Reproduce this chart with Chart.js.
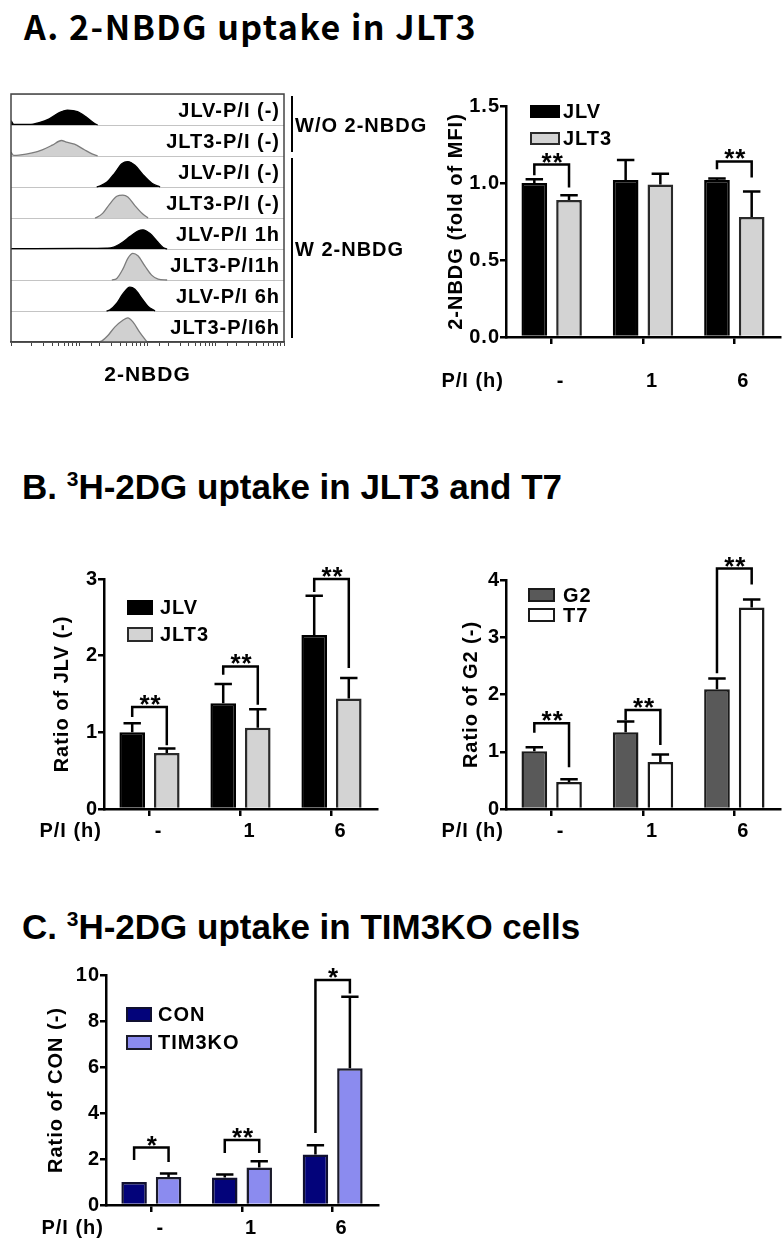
<!DOCTYPE html>
<html><head><meta charset="utf-8">
<script src="https://cdn.jsdelivr.net/npm/chart.js@4.4.0/dist/chart.umd.min.js"></script>
<style>
html,body{margin:0;padding:0;background:#fff;}
body{width:784px;height:1241px;position:relative;overflow:hidden;}
.t{position:absolute;white-space:nowrap;color:#000;line-height:1;}
.lt{font-family:'Liberation Sans',Arial,sans-serif;font-weight:700;font-size:35px;}
.lt span{font-size:21px;position:relative;top:-13px;}
canvas{position:absolute;display:block;}
</style></head><body>
<div class="t" style="left:24px;top:9px;font-family:'Noto Sans CJK KR','Noto Sans',sans-serif;font-weight:700;font-size:34px;letter-spacing:1.5px;">A. 2-NBDG uptake in JLT3</div>
<div class="t lt" style="left:22px;top:469px;">B. <span>3</span>H-2DG uptake in JLT3 and T7</div>
<div class="t lt" style="left:22px;top:909px;">C. <span>3</span>H-2DG uptake in TIM3KO cells</div>

<canvas id="hist" width="440" height="320" style="left:0;top:80px"></canvas>
<canvas id="barA" width="349" height="315" style="left:435px;top:85px"></canvas>
<canvas id="barB1" width="360" height="315" style="left:40px;top:545px"></canvas>
<canvas id="barB2" width="364" height="315" style="left:420px;top:545px"></canvas>
<canvas id="barC" width="380" height="286" style="left:20px;top:955px"></canvas>

<script>
// ---------------- DATA ----------------
const categories = ['-', '1', '6'];
const xAxisLabel = 'P/I (h)';

// Panel A: flow cytometry histograms, points are [2-NBDG intensity, relative count]
const histRowLabels = ['JLV-P/I (-)', 'JLT3-P/I (-)', 'JLV-P/I (-)', 'JLT3-P/I (-)', 'JLV-P/I 1h', 'JLT3-P/I1h', 'JLV-P/I 6h', 'JLT3-P/I6h'];
const histRowCells = ['JLV', 'JLT3', 'JLV', 'JLT3', 'JLV', 'JLT3', 'JLV', 'JLT3'];
const histGroups = [{from: 0, to: 1, text: 'W/O 2-NBDG'}, {from: 2, to: 7, text: 'W 2-NBDG'}];
const histJLVnone   = [[1,0.14],[1.1,0.02],[1.84,0.02],[2.59,0.08],[3.64,0.2],[5.11,0.4],[6.71,0.48],[9.42,0.43],[12.8,0.25],[16.8,0.05],[18.6,0]];
const histJLT3none  = [[1,0.12],[1.1,0.02],[1.31,0.03],[2.04,0.1],[2.87,0.2],[4.03,0.35],[5.47,0.5],[6.48,0.45],[8.51,0.38],[11.9,0.2],[15.7,0.06],[18.6,0]];
const histJLV0      = [[18,0],[19.9,0.03],[25.2,0.15],[33.1,0.45],[42,0.75],[51.5,0.82],[65.4,0.7],[85.8,0.4],[116,0.12],[153,0]];
const histJLT3_0    = [[17,0],[18,0.02],[22,0.15],[27.9,0.45],[35.5,0.7],[43.5,0.74],[51.5,0.68],[65.4,0.4],[83,0.15],[102,0]];
const histJLV1h     = [[1,0.01],[10,0.02],[25,0.03],[31,0.05],[42,0.2],[55.2,0.4],[72.4,0.58],[85.8,0.62],[109,0.5],[138,0.25],[169,0.05],[194,0]];
const histJLT3_1h   = [[30,0],[35.5,0.05],[43.5,0.35],[51.5,0.7],[61.1,0.86],[72.4,0.78],[91.8,0.45],[116,0.15],[143,0.03],[194,0]];
const histJLV6h     = [[25,0],[27.9,0.03],[35.5,0.25],[43.5,0.55],[55.2,0.77],[65.4,0.7],[83,0.4],[102,0.15],[129,0]];
const histJLT3_6h   = [[19,0],[21.3,0.03],[26.1,0.2],[33.1,0.48],[43.5,0.7],[51.5,0.78],[61.1,0.65],[77.5,0.3],[98.4,0]];
const histTraces = [histJLVnone, histJLT3none, histJLV0, histJLT3_0, histJLV1h, histJLT3_1h, histJLV6h, histJLT3_6h];

// Panel A bar: 2-NBDG (fold of MFI)
const nbdgJLV = [1.00, 1.02, 1.02];
const nbdgJLVErr = [0.025, 0.13, 0.01];
const nbdgJLT3 = [0.89, 0.99, 0.78];
const nbdgJLT3Err = [0.03, 0.07, 0.165];
const nbdgSig = [{i: 0, y: 1.12, l: 1.05, r: 0.97, t: '**'}, {i: 2, y: 1.14, l: 1.09, r: 1.035, t: '**'}];

// Panel B left: Ratio of JLV
const dgJLV = [1.00, 1.38, 2.27];
const dgJLVErr = [0.12, 0.25, 0.51];
const dgJLT3 = [0.73, 1.06, 1.44];
const dgJLT3Err = [0.06, 0.24, 0.27];
const dgJLTSig = [{i: 0, y: 1.33, l: 1.2, r: 0.83, t: '**'}, {i: 1, y: 1.86, l: 1.75, r: 1.36, t: '**'}, {i: 2, y: 3.0, l: 2.83, r: 1.84, t: '**'}];

// Panel B right: Ratio of G2
const dgG2 = [1.01, 1.34, 2.09];
const dgG2Err = [0.07, 0.19, 0.19];
const dgT7 = [0.47, 0.82, 3.52];
const dgT7Err = [0.05, 0.13, 0.14];
const dgT7Sig = [{i: 0, y: 1.5, l: 1.33, r: 0.73, t: '**'}, {i: 1, y: 1.73, l: 1.55, r: 1.12, t: '**'}, {i: 2, y: 4.2, l: 2.37, r: 3.92, t: '**'}];

// Panel C: Ratio of CON
const koCON = [1.00, 1.20, 2.20];
const koCONErr = [0, 0.13, 0.40];
const koTIM3KO = [1.22, 1.63, 5.95];
const koTIM3KOErr = [0.15, 0.27, 3.10];
const koSig = [{i: 0, y: 2.5, l: 1.96, r: 1.87, t: '*'}, {i: 1, y: 2.83, l: 2.26, r: 2.26, t: '**'}, {i: 2, y: 9.78, l: 3.13, r: 9.2, t: '*'}];

// ---------------- DRAWING ----------------
const FONT = "'Liberation Sans', Arial, Helvetica, sans-serif";
const bold = (size) => ({family: FONT, weight: 'bold', size});

const spacingPlugin = {
  id: 'spacing',
  beforeUpdate(c) { c.ctx.letterSpacing = '1px'; },
  beforeDraw(c) { c.ctx.letterSpacing = '1px'; }
};

const errorBarPlugin = {
  id: 'errorBars',
  afterDatasetsDraw(chart) {
    const {ctx} = chart; const y = chart.scales.y;
    ctx.save(); ctx.strokeStyle = '#000'; ctx.lineWidth = 2.5;
    chart.data.datasets.forEach((ds, di) => {
      chart.getDatasetMeta(di).data.forEach((bar, i) => {
        const e = ds.errors[i]; if (!e) return;
        const top = y.getPixelForValue(ds.data[i] + e);
        const hw = bar.width * 0.34;
        ctx.beginPath();
        ctx.moveTo(bar.x, bar.y); ctx.lineTo(bar.x, top);
        ctx.moveTo(bar.x - hw, top); ctx.lineTo(bar.x + hw, top);
        ctx.stroke();
      });
    });
    ctx.restore();
  }
};

const bracketPlugin = {
  id: 'brackets',
  afterDatasetsDraw(chart, args, opts) {
    const {ctx} = chart; const y = chart.scales.y;
    const m0 = chart.getDatasetMeta(0), m1 = chart.getDatasetMeta(1);
    ctx.save(); ctx.strokeStyle = '#000'; ctx.lineWidth = 2.5; ctx.fillStyle = '#000';
    (opts.items || []).forEach(b => {
      const x0 = m0.data[b.i].x, x1 = m1.data[b.i].x;
      const yt = y.getPixelForValue(b.y), yl = y.getPixelForValue(b.l), yr = y.getPixelForValue(b.r);
      ctx.beginPath();
      ctx.moveTo(x0, yl); ctx.lineTo(x0, yt); ctx.lineTo(x1, yt); ctx.lineTo(x1, yr);
      ctx.stroke();
      ctx.font = 'bold 26px ' + FONT; ctx.textAlign = 'center'; ctx.textBaseline = 'alphabetic';
      ctx.fillText(b.t, (x0 + x1) / 2 + 1, yt + 6);
    });
    ctx.restore();
  }
};

const legendPlugin = {
  id: 'boxLegend',
  afterDraw(chart, args, o) {
    const {ctx, chartArea: a} = chart;
    ctx.save();
    chart.data.datasets.forEach((ds, k) => {
      const x = a.left + o.dx, yy = a.top + o.dy + k * o.gap;
      ctx.fillStyle = ds.backgroundColor; ctx.fillRect(x, yy, o.w, o.h);
      ctx.lineWidth = 2; ctx.strokeStyle = ds.borderColor; ctx.strokeRect(x + 1, yy + 1, o.w - 2, o.h - 2);
      ctx.fillStyle = '#000'; ctx.font = 'bold 20px ' + FONT; ctx.textAlign = 'left'; ctx.textBaseline = 'middle';
      ctx.fillText(ds.label, x + o.w + o.tx, yy + o.h / 2 + 1);
    });
    ctx.restore();
  }
};

const xNamePlugin = {
  id: 'xName',
  afterDraw(chart, args, o) {
    const {ctx} = chart; const xs = chart.scales.x; const ys = chart.scales.y;
    const cy = xs.top + xs.options.grid.tickLength + xs.options.ticks.padding + 12;
    ctx.save();
    ctx.letterSpacing = '1px';
    ctx.fillStyle = '#000'; ctx.font = 'bold 20px ' + FONT; ctx.textAlign = 'right'; ctx.textBaseline = 'middle';
    ctx.fillText(o.text, ys.right - 2, cy);
    ctx.restore();
  }
};

function makeBar(id, o) {
  return new Chart(document.getElementById(id), {
    type: 'bar',
    data: {
      labels: categories,
      datasets: o.series.map(s => ({
        label: s.label, data: s.data, errors: s.err,
        backgroundColor: s.color, borderColor: s.border, borderWidth: 2.5, borderSkipped: 'bottom',
        categoryPercentage: 0.76, barPercentage: 0.74
      }))
    },
    options: {
      responsive: false, animation: false, events: [],
      layout: {padding: {top: o.padTop, right: o.padRight, left: 0, bottom: 0}},
      plugins: {
        legend: {display: false}, tooltip: {enabled: false},
        boxLegend: o.legend, brackets: {items: o.sig}, xName: {text: xAxisLabel}
      },
      scales: {
        x: {
          offset: true,
          grid: {offset: false, drawOnChartArea: false, drawTicks: true, tickLength: 7, color: '#000', lineWidth: 2.5},
          border: {display: true, color: '#000', width: 2.5},
          ticks: {color: '#000', font: bold(20), padding: o.tickPad, labelOffset: 9, maxRotation: 0, autoSkip: false},
          afterFit: s => { s.height = o.xH; }
        },
        y: {
          min: 0, max: o.max,
          ticks: {stepSize: o.step, color: '#000', font: bold(20), padding: 0, callback: o.fmt},
          grid: {drawOnChartArea: false, drawTicks: true, tickLength: 6, color: '#000', lineWidth: 2.5},
          border: {display: true, color: '#000', width: 2.5},
          title: {display: true, text: o.yTitle, color: '#000', font: bold(20), padding: {top: o.titlePad, bottom: 0}},
          afterFit: s => { s.width = o.yW; }
        }
      }
    },
    plugins: [spacingPlugin, errorBarPlugin, bracketPlugin, legendPlugin, xNamePlugin]
  });
}

// ----- Histogram panel -----
const histFramePlugin = {
  id: 'histFrame',
  afterDraw(chart, args, o) {
    const {ctx, chartArea: a} = chart; const y = chart.scales.y;
    ctx.save();
    ctx.strokeStyle = '#444'; ctx.lineWidth = 1.5;
    ctx.strokeRect(a.left, a.top, a.right - a.left, a.bottom - a.top);
    ctx.fillStyle = '#000'; ctx.font = 'bold 20px ' + FONT; ctx.textBaseline = 'middle';
    ctx.textAlign = 'right';
    o.rows.forEach((lab, r) => {
      const top = y.getPixelForValue(8 - r), bot = y.getPixelForValue(7 - r);
      ctx.fillText(lab, a.right - 4, (top + bot) / 2 + 2);
    });
    ctx.textAlign = 'left'; ctx.strokeStyle = '#000'; ctx.lineWidth = 2;
    o.groups.forEach(g => {
      const top = y.getPixelForValue(8 - g.from), bot = y.getPixelForValue(7 - g.to);
      ctx.beginPath(); ctx.moveTo(a.right + 8, top + 2); ctx.lineTo(a.right + 8, bot - 4); ctx.stroke();
      ctx.fillText(g.text, a.right + 11, (top + bot) / 2 + 1);
    });
    ctx.restore();
  }
};

new Chart(document.getElementById('hist'), {
  type: 'line',
  data: {
    datasets: histTraces.map((pts, r) => {
      const isJLV = histRowCells[r] === 'JLV';
      return {
        label: histRowLabels[r],
        data: pts.map(([x, h]) => ({x, y: (7 - r) + h})),
        fill: {value: 7 - r},
        backgroundColor: isJLV ? '#000' : '#d0d0d0',
        borderColor: isJLV ? '#000' : '#7c7c7c',
        borderWidth: 1.3, pointRadius: 0, cubicInterpolationMode: 'monotone'
      };
    })
  },
  options: {
    responsive: false, animation: false, events: [],
    layout: {padding: {top: 14, right: 156, left: 0, bottom: 0}},
    plugins: {legend: {display: false}, tooltip: {enabled: false}, histFrame: {rows: histRowLabels, groups: histGroups}},
    scales: {
      x: {
        type: 'logarithmic', min: 1, max: 10000,
        grid: {drawOnChartArea: false, drawTicks: true, tickLength: 4, color: '#444', lineWidth: 1},
        border: {display: true, color: '#444', width: 1.5},
        ticks: {display: false, autoSkip: false},
        title: {display: true, text: '2-NBDG', color: '#000', font: bold(21), padding: {top: 0, bottom: 12}},
        afterFit: s => { s.height = 58; }
      },
      y: {
        min: 0, max: 8,
        ticks: {display: false, stepSize: 1},
        grid: {color: '#c4c4c4', lineWidth: 1, drawTicks: false},
        border: {display: false},
        afterFit: s => { s.width = 11; }
      }
    }
  },
  plugins: [spacingPlugin, histFramePlugin]
});

// ----- Bar charts -----
makeBar('barA', {
  series: [
    {label: 'JLV', data: nbdgJLV, err: nbdgJLVErr, color: '#000', border: '#000'},
    {label: 'JLT3', data: nbdgJLT3, err: nbdgJLT3Err, color: '#d3d3d3', border: '#2a2a2a'}
  ],
  sig: nbdgSig, max: 1.5, step: 0.5, fmt: v => v.toFixed(1), yTitle: '2-NBDG (fold of MFI)',
  padTop: 21, padRight: 4, yW: 71, xH: 63, titlePad: 9, tickPad: 25,
  legend: {dx: 24, dy: -1, w: 30, h: 13, gap: 27, tx: 3}
});

makeBar('barB1', {
  series: [
    {label: 'JLV', data: dgJLV, err: dgJLVErr, color: '#000', border: '#000'},
    {label: 'JLT3', data: dgJLT3, err: dgJLT3Err, color: '#d3d3d3', border: '#2a2a2a'}
  ],
  sig: dgJLTSig, max: 3, step: 1, fmt: v => String(v), yTitle: 'Ratio of JLV (-)',
  padTop: 34, padRight: 23, yW: 64, xH: 51, titlePad: 10, tickPad: 3,
  legend: {dx: 23, dy: 21, w: 26, h: 15, gap: 27, tx: 7}
});

makeBar('barB2', {
  series: [
    {label: 'G2', data: dgG2, err: dgG2Err, color: '#595959', border: '#1a1a1a'},
    {label: 'T7', data: dgT7, err: dgT7Err, color: '#ffffff', border: '#1a1a1a'}
  ],
  sig: dgT7Sig, max: 4, step: 1, fmt: v => String(v), yTitle: 'Ratio of G2 (-)',
  padTop: 35, padRight: 4, yW: 86, xH: 51, titlePad: 39, tickPad: 3,
  legend: {dx: 22, dy: 8, w: 27, h: 14, gap: 20, tx: 8}
});

makeBar('barC', {
  series: [
    {label: 'CON', data: koCON, err: koCONErr, color: '#03037a', border: '#101030'},
    {label: 'TIM3KO', data: koTIM3KO, err: koTIM3KOErr, color: '#8b8bef', border: '#1a1a2a'}
  ],
  sig: koSig, max: 10, step: 2, fmt: v => String(v), yTitle: 'Ratio of CON (-)',
  padTop: 20, padRight: 22, yW: 86, xH: 36, titlePad: 24, tickPad: 4,
  legend: {dx: 20, dy: 32, w: 26, h: 15, gap: 28, tx: 6}
});
</script>
</body></html>
